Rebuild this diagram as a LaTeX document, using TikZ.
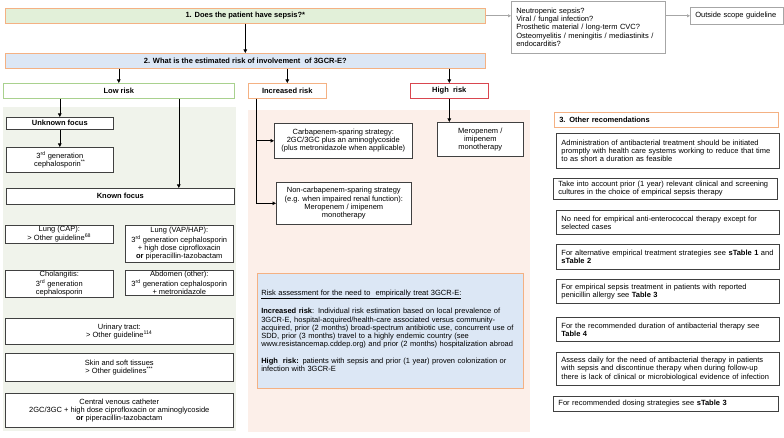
\documentclass[tikz,border=0pt]{standalone}
\usepackage{fontspec}
\setmainfont{Liberation Sans}
\usetikzlibrary{arrows.meta}

\definecolor{orangeline}{HTML}{F4B183}
\definecolor{greenline}{HTML}{A9D18E}
\definecolor{redline}{HTML}{D9464F}
\definecolor{greenfill}{HTML}{E2F0D9}
\definecolor{bluefill}{HTML}{DCE7F5}
\definecolor{greenpanel}{HTML}{F0F3EB}
\definecolor{pinkpanel}{HTML}{FCEFE9}
\definecolor{boxline}{HTML}{404040}
\definecolor{greyline}{HTML}{A6A6A6}

\begin{document}
\begin{tikzpicture}[x=1pt,y=-1pt,
    every node/.style={font=\fontsize{7.5}{8.2}\selectfont, inner xsep=2pt, inner ysep=1pt},
    box/.style={draw=boxline, line width=0.6pt, fill=white, anchor=north west, align=center},
    lbox/.style={box, align=left, inner xsep=5pt},
    head/.style={box, font=\fontsize{7.5}{8.4}\selectfont\bfseries},
    arr/.style={-{Triangle[length=3.5pt,width=3.5pt]}, line width=0.6pt, black},
    garr/.style={-{Triangle[length=3pt,width=3pt]}, line width=0.6pt, greyline}]

    \useasboundingbox (0,0) rectangle (784,438);

    % the coloured panels behind the risk groups
    \fill[greenpanel] (3,107) rectangle (236,431);
    \fill[pinkpanel] (248,110) rectangle (530,432);

    % the two questions
    \node[head, fill=greenfill, draw=orangeline, minimum width=480pt, minimum height=15pt] (q1) at (5,8) {1. Does the patient have sepsis?*};
    \node[head, fill=bluefill, draw=orangeline, minimum width=480pt, minimum height=15pt] (q2) at (5,53) {2. What is the estimated risk of involvement\ \ of 3GCR-E?};

    % out of scope
    \node[lbox, draw=greyline, text width=144pt, minimum height=52pt] (neut) at (511,1) {Neutropenic sepsis?\\Viral / fungal infection?\\Prosthetic material / long-term CVC?\\Osteomyelitis / meningitis / mediastinits /\\endocarditis?};
    \node[lbox, draw=greyline, text width=83pt, minimum height=17pt] (outs) at (690,7) {Outside scope guideline};

    % the risk groups
    \node[head, draw=greenline, minimum width=231pt, minimum height=15pt] (low) at (3,83) {Low risk};
    \node[head, draw=orangeline, minimum width=78pt, minimum height=15pt] (inc) at (248,83) {Increased risk};
    \node[head, draw=redline, minimum width=78pt, minimum height=15pt] (high) at (410,83) {High\ \ risk};

    % low risk
    \node[head, minimum width=107pt, minimum height=12pt] (unk) at (6,117) {Unknown focus};
    \node[box, minimum width=107pt, minimum height=25pt] (gen3) at (6,147) {3\textsuperscript{rd} generation\\cephalosporin\textsuperscript{**}};
    \node[head, minimum width=228pt, minimum height=16pt] (known) at (6,188) {Known focus};
    \node[box, minimum width=108pt, minimum height=18pt] (cap) at (5,225) {Lung (CAP):\\> Other guideline\textsuperscript{68}};
    \node[box, minimum width=108pt, minimum height=37pt] (vap) at (125,225) {Lung (VAP/HAP):\\3\textsuperscript{rd} generation cephalosporin\\+ high dose ciprofloxacin\\\textbf{or} piperacillin-tazobactam};
    \node[box, minimum width=108pt, minimum height=25pt] (chol) at (5,270) {Cholangitis:\\3\textsuperscript{rd} generation\\cephalosporin};
    \node[box, minimum width=108pt, minimum height=25pt] (abd) at (125,270) {Abdomen (other):\\3\textsuperscript{rd} generation cephalosporin\\+ metronidazole};
    \node[box, minimum width=228pt, minimum height=26pt] (uri) at (5,318) {Urinary tract:\\> Other guideline\textsuperscript{114}};
    \node[box, minimum width=228pt, minimum height=28pt] (skin) at (5,353) {Skin and soft tissues\\> Other guidelines\textsuperscript{***}};
    \node[box, minimum width=228pt, minimum height=34pt] (cvc) at (5,393) {Central venous catheter\\2GC/3GC + high dose ciprofloxacin or aminoglycoside\\\textbf{or} piperacillin-tazobactam};

    % increased and high risk
    \node[box, minimum width=138pt, minimum height=35pt] (carb) at (274,123) {Carbapenem-sparing strategy:\\2GC/3GC plus an aminoglycoside\\(plus metronidazole when applicable)};
    \node[box, minimum width=135pt, minimum height=42pt] (noncarb) at (276,182) {Non-carbapenem-sparing strategy\\(e.g. when impaired renal function):\\Meropenem / imipenem\\monotherapy};
    \node[box, minimum width=86pt, minimum height=34pt] (mero) at (437,122) {Meropenem /\\imipenem\\monotherapy};

    % risk assessment
    \node[lbox, fill=bluefill, draw=orangeline, inner xsep=4pt, text width=258pt, minimum height=115pt] (risk) at (257,273) {\underline{Risk assessment for the need to\ \ empirically treat 3GCR-E:}\\[8.2pt]
        \textbf{Increased risk}: Individual risk estimation based on local prevalence of\\3GCR-E, hospital-acquired/health-care associated versus community-\\acquired, prior (2 months) broad-spectrum antibiotic use, concurrent use of\\SDD, prior (3 months) travel to a highly endemic country (see\\www.resistancemap.cddep.org) and prior (2 months) hospitalization abroad\\[8.2pt]
        \textbf{High\ \ risk:} patients with sepsis and prior (1 year) proven colonization or\\infection with 3GCR-E};

    % other recommendations
    \node[lbox, draw=orangeline, text width=214pt, minimum height=15pt, font=\fontsize{7.5}{8.4}\selectfont\bfseries] (oth) at (554,112) {3. Other recomendations};
    \node[lbox, line width=0.9pt, text width=213pt, minimum height=35pt] (r1) at (556,133) {Administration of antibacterial treatment should be initiated\\promptly with health care systems working to reduce that time\\to as short a duration as feasible};
    \node[lbox, line width=0.9pt, text width=214pt, minimum height=21pt] (r2) at (553,178) {Take into account prior (1 year) relevant clinical and screening\\cultures in the choice of empirical sepsis therapy};
    \node[lbox, line width=0.9pt, text width=213pt, minimum height=24pt] (r3) at (556,210) {No need for empirical anti-enterococcal therapy except for\\selected cases};
    \node[lbox, line width=0.9pt, text width=213pt, minimum height=25pt] (r4) at (556,244) {For alternative empirical treatment strategies see \textbf{sTable 1} and\\\textbf{sTable 2}};
    \node[lbox, line width=0.9pt, text width=213pt, minimum height=24pt] (r5) at (556,279) {For empirical sepsis treatment in patients with reported\\penicillin allergy see \textbf{Table 3}};
    \node[lbox, line width=0.9pt, text width=213pt, minimum height=24pt] (r6) at (556,317) {For the recommended duration of antibacterial therapy see\\\textbf{Table 4}};
    \node[lbox, line width=0.9pt, text width=213pt, minimum height=33pt] (r7) at (556,352) {Assess daily for the need of antibacterial therapy in patients\\with sepsis and discontinue therapy when during follow-up\\there is lack of clinical or microbiological evidence of infection};
    \node[lbox, line width=0.9pt, text width=215pt, minimum height=15pt] (r8) at (553,396) {For recommended dosing strategies see \textbf{sTable 3}};

    % draw the arrows
    \draw[arr] (q1) -- (q2);
    \draw[garr] (q1.east) -- (q1.east -| neut.west);
    \draw[garr] (neut.east |- outs.west) -- (outs.west);
    \draw[arr] (low.north |- q2.south) -- (low.north);
    \draw[arr] (inc.north |- q2.south) -- (inc.north);
    \draw[arr] (high.north |- q2.south) -- (high.north);
    \draw[arr] (unk.north |- low.south) -- (unk.north);
    \draw[arr] (unk) -- (gen3);
    \draw[arr] ([xshift=60pt]low.south) -- ([xshift=60pt]low.south |- known.north);
    \coordinate (incs) at ([xshift=8pt]inc.south west);
    \draw[arr] (incs) |- (carb.west);
    \draw[arr] (incs) |- (noncarb.west);
    \draw[arr] (high.south) -- (high.south |- mero.north);

\end{tikzpicture}
\end{document}
